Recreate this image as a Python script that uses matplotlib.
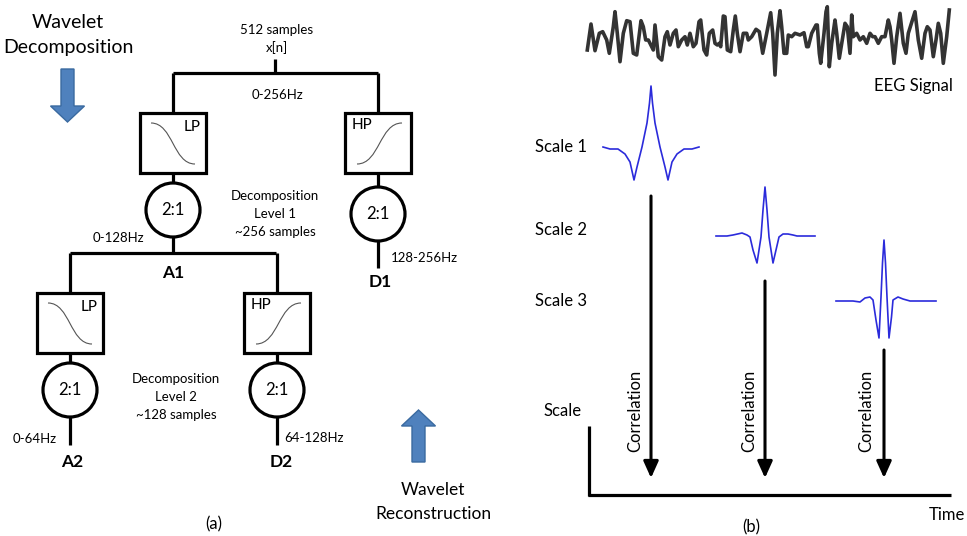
import numpy as np
import matplotlib
matplotlib.use("Agg")
import matplotlib.pyplot as plt
from matplotlib.patches import Rectangle, Circle, FancyArrow, PathPatch
from matplotlib.path import Path

plt.rcParams['font.family'] = ['Lato', 'DejaVu Sans']

# ---- data ----
# EEG trace (pixel x, pixel y)
eeg_x = [587.3, 591, 595, 599.3, 602.7, 606.7, 609.3, 613.3, 615, 617.3, 620, 623.3, 626.7, 630,
         633.3, 636.7, 641, 643.3, 645.7, 648.3, 650, 653.3, 655, 658.3, 661.7, 665, 667.3, 670,
         673.3, 676, 678.3, 681.7, 685, 687.3, 690, 693.3, 696, 699, 700.7, 704, 706.7, 709.3,
         712.7, 715, 717.3, 719.3, 720.7, 723.3, 725, 727.3, 730.7, 733.3, 735.3, 737.3, 740,
         743.3, 746.7, 748.3, 751.7, 756, 759.3, 762.7, 766.7, 770.7, 772.7, 775, 777.3, 780,
         781.7, 784, 786.7, 788.3, 791.7, 795, 800, 804, 806.7, 808.3, 811.7, 816, 817.3, 819.3,
         820.7, 824, 826, 827.3, 829.3, 831.7, 835, 836.7, 839.3, 841.7, 845, 847.3, 850, 851.7,
         853.3, 856.7, 860, 863.3, 866.7, 870, 872.7, 875, 878.3, 881.7, 885, 888.3, 890, 891.7,
         894, 896.7, 900, 903.3, 906, 908.3, 915, 918.3, 921.7, 925, 927.3, 930, 933.3, 936,
         938.3, 940.7, 943.3, 946.7, 949.3]
eeg_y = [50, 24, 50.7, 33.3, 31.7, 40, 53.3, 26.7, 11.7, 33.3, 61.7, 33.3, 20.7, 21.7,
         53.3, 55, 20.7, 26.7, 40, 40, 43.3, 50, 25, 56.7, 60, 36.7, 31.7, 45,
         33.3, 30, 46.7, 40, 36.7, 45, 33.3, 46.7, 43.3, 21.7, 20, 50, 55, 33.3,
         30, 43.3, 45, 43.3, 46.7, 16, 16.7, 50, 51.7, 30, 16, 33.3, 51.7,
         33.3, 33.3, 40, 36.7, 29.3, 31.7, 53.3, 33.3, 12.7, 33.3, 75, 33.3, 10.7,
         26.7, 53.3, 53.3, 35, 36.7, 33.3, 35, 32.7, 46.7, 46.7, 33.3, 25, 25, 53.3,
         63.3, 33.3, 11.7, 6.7, 66.7, 43.3, 20, 33.3, 58.3, 43.3, 23.3, 26.7, 53.3, 15,
         36.7, 33.3, 40, 36.7, 43.3, 33.3, 36.7, 36.7, 43.3, 36.7, 36.7, 20, 26.7, 40,
         63.3, 36.7, 13.3, 43.3, 53.3, 33.3, 11.7, 40, 58.3, 33.3, 26.7, 30, 56.7, 40,
         23.3, 33.3, 63.3, 36.7, 10]

# wavelets: time offset (px) and amplitude (px) around each centre
w1_t = [-48, -41, -33, -26, -21, -17, -14, -9, -4, -1.5, 0, 1.5, 4, 9, 14, 17, 21, 26, 33, 41, 48]
w1_a = [1, -1, -1, -6, -14, -32, -19, 1, 25, 45, 62, 45, 25, 1, -19, -32, -14, -6, -1, -1, 1]
w2_t = [-49, -38, -32, -23, -18, -15, -12, -8, -4, -2, 0, 2, 4, 8, 11, 14, 18, 23, 28, 32, 50]
w2_a = [0, 0, 1, 3, 1, -1, -14, -27, -1, 26, 49, 26, -1, -27, -14, -1, 2, 2, 1, 0, 0]
w3_t = [-48, -37, -31, -24, -19, -14, -11, -8, -5, -3, -1.5, 0, 1.5, 3, 5, 7.5, 9, 14, 19, 26, 52]
w3_a = [0, 0, 0, -1, 3, 4, 1, -19, -37, 4, 38, 61, 38, 4, -37, -16, 1, 4, 2, 0, 0]

scale_labels = ["Scale 1", "Scale 2", "Scale 3"]
level_texts = [["Decomposition", "Level 1", "~256 samples"],
               ["Decomposition", "Level 2", "~128 samples"]]
band_labels = ["0-256Hz", "0-128Hz", "128-256Hz", "0-64Hz", "64-128Hz"]
node_labels = ["A1", "D1", "A2", "D2"]

fig = plt.figure(figsize=(9.67, 5.36), dpi=100)
ax = fig.add_axes([0, 0, 1, 1])
ax.set_xlim(0, 967)
ax.set_ylim(536, 0)
ax.axis('off')

LW = 2.3
K = 'black'


def line(xs, ys, lw=LW):
    ax.plot(xs, ys, color=K, lw=lw, solid_capstyle='butt')


def filt(cx, top, kind):
    ax.add_patch(Rectangle((cx - 33, top), 66, 60, fill=False, ec=K, lw=LW))
    if kind == "LP":
        x0, y0, x1, y1 = cx - 22, top + 10, cx + 22, top + 51
        ax.text(cx + 19, top + 14, "LP", ha='center', va='center', fontsize=11)
    else:
        x0, y0, x1, y1 = cx - 21, top + 51, cx + 24, top + 10
        ax.text(cx - 16, top + 12, "HP", ha='center', va='center', fontsize=11)
    mx = (x0 + x1) / 2
    p = Path([(x0, y0), (mx, y0), (mx, y1), (x1, y1)],
             [Path.MOVETO, Path.CURVE4, Path.CURVE4, Path.CURVE4])
    ax.add_patch(PathPatch(p, fill=False, ec='#555555', lw=0.8))


def down(cx, cy):
    ax.add_patch(Circle((cx, cy), 27, fill=False, ec=K, lw=LW))
    ax.text(cx, cy, "2:1", ha='center', va='center', fontsize=12)


# ---- (a) decomposition tree ----
ax.text(68, 22, "Wavelet", ha='center', va='center', fontsize=14)
ax.text(68, 47, "Decomposition", ha='center', va='center', fontsize=14)
ax.add_patch(FancyArrow(67.5, 69, 0, 53, width=13, head_width=34, head_length=16,
                        length_includes_head=True, fc='#4f81bd', ec='#3a6aa0', lw=1))

ax.text(277, 30, "512 samples", ha='center', va='center', fontsize=9.5)
ax.text(277, 48, "x[n]", ha='center', va='center', fontsize=9.5)
line([275, 275], [59, 73])
line([173, 378], [73, 73])
ax.text(277, 95, band_labels[0], ha='center', va='center', fontsize=9.5)

line([173, 173], [73, 113]); line([378, 378], [73, 113])
filt(173, 113, "LP"); filt(378, 113, "HP")
line([173, 173], [173, 183]); line([378, 378], [173, 187])
down(173, 210); down(378, 214)
line([173, 173], [237, 253]); line([378, 378], [241, 268])
line([70, 276], [253, 253])
ax.text(118, 238, band_labels[1], ha='center', va='center', fontsize=9.5)
ax.text(424, 258, band_labels[2], ha='center', va='center', fontsize=9.5)
ax.text(173, 273, node_labels[0], ha='center', va='center', fontsize=12.5, fontweight='bold')
ax.text(380, 282, node_labels[1], ha='center', va='center', fontsize=12.5, fontweight='bold')
for i, s in enumerate(level_texts[0]):
    ax.text(275, 196 + 18 * i, s, ha='center', va='center', fontsize=9.5)

line([70, 70], [253, 293]); line([277, 277], [253, 293])
filt(70, 293, "LP"); filt(277, 293, "HP")
line([70, 70], [353, 363]); line([277, 277], [353, 363])
down(70, 390); down(277, 390)
line([70, 70], [417, 445]); line([277, 277], [417, 445])
ax.text(35, 439, band_labels[3], ha='center', va='center', fontsize=9.5)
ax.text(314, 438, band_labels[4], ha='center', va='center', fontsize=9.5)
ax.text(72, 462, node_labels[2], ha='center', va='center', fontsize=12.5, fontweight='bold')
ax.text(281, 462, node_labels[3], ha='center', va='center', fontsize=12.5, fontweight='bold')
for i, s in enumerate(level_texts[1]):
    ax.text(176, 379 + 18 * i, s, ha='center', va='center', fontsize=9.5)

ax.add_patch(FancyArrow(418.5, 462, 0, -52, width=13, head_width=34, head_length=16,
                        length_includes_head=True, fc='#4f81bd', ec='#3a6aa0', lw=1))
ax.text(433, 490, "Wavelet", ha='center', va='center', fontsize=12.5)
ax.text(433, 514, "Reconstruction", ha='center', va='center', fontsize=12.5)
ax.text(214, 524, "(a)", ha='center', va='center', fontsize=12)

# ---- (b) correlation with scaled wavelets ----
ax.plot(eeg_x, eeg_y, color='#333333', lw=2.6, solid_joinstyle='round')
ax.text(953, 86, "EEG Signal", ha='right', va='center', fontsize=12)

wavelets = [(w1_t, w1_a, 651, 148), (w2_t, w2_a, 765, 236), (w3_t, w3_a, 884, 301)]
label_y = [147, 230, 301]
for (t, a, cx, base), lab, ly in zip(wavelets, scale_labels, label_y):
    ax.plot(np.array(t) + cx, base - np.array(a), color='#2b2bdb', lw=1.2)
    ax.text(535, ly, lab, ha='left', va='center', fontsize=12)

for cx, y0, tx in [(651, 196, 635), (765, 281, 749), (884, 350, 866)]:
    ax.annotate('', xy=(cx, 478), xytext=(cx, y0),
                arrowprops=dict(arrowstyle='-|>,head_width=0.45,head_length=1.0',
                                color=K, lw=2.2, shrinkA=0, shrinkB=0))
    ax.text(tx, 411, "Correlation", rotation=90, ha='center', va='center', fontsize=12)

line([589, 589], [426, 496]); line([588, 951], [495, 495])
ax.text(563, 411, "Scale", ha='center', va='center', fontsize=12)
ax.text(947, 515, "Time", ha='center', va='center', fontsize=12)
ax.text(751, 527, "(b)", ha='center', va='center', fontsize=12)

fig.savefig("out.png", dpi=100)
